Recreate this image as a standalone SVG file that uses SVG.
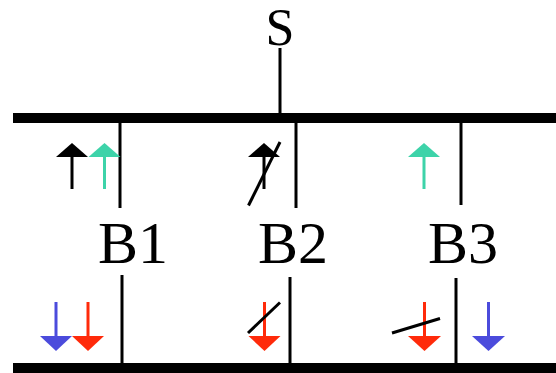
<svg xmlns="http://www.w3.org/2000/svg" width="556" height="373" viewBox="0 0 556 373">
<style>
.bus{fill:#000}
.ln{stroke:#000;stroke-width:3;fill:none}
.lbl{font-family:"Liberation Serif","Times New Roman",serif;fill:#000}
.k{stroke:#000;stroke-width:3}
.t{stroke:#3dd3a9;stroke-width:3}
.r{stroke:#ff2a0a;stroke-width:3}
.b{stroke:#4b4bdc;stroke-width:3}
.kf{fill:#000}
.tf{fill:#3dd3a9}
.rf{fill:#ff2a0a}
.bf{fill:#4b4bdc}
</style>
<g id="connectors">
<rect class="bus" x="13" y="113" width="543" height="10"/>
<rect class="bus" x="13" y="363" width="543" height="10"/>
<line class="ln" x1="280" y1="48" x2="280" y2="113"/>
<line class="ln" x1="120" y1="123" x2="120" y2="208"/>
<line class="ln" x1="122" y1="275" x2="122" y2="363"/>
<line class="ln" x1="296" y1="123" x2="296" y2="208"/>
<line class="ln" x1="290" y1="277" x2="290" y2="363"/>
<line class="ln" x1="461" y1="123" x2="461" y2="205"/>
<line class="ln" x1="456" y1="278" x2="456" y2="363"/>
</g>
<g id="S"><text class="lbl" x="280" y="45" font-size="52" text-anchor="middle">S</text></g>
<g id="B1">
<text class="lbl" x="98" y="263" font-size="60">B1</text>
<line class="k" x1="72" y1="156" x2="72" y2="189"/>
<polygon class="kf" points="56,157 72,143 88,157"/>
<line class="t" x1="104.5" y1="156" x2="104.5" y2="189"/>
<polygon class="tf" points="88.5,157 104.5,143 120.5,157"/>
<line class="b" x1="56" y1="302" x2="56" y2="337"/>
<polygon class="bf" points="40,336 56,351 72,336"/>
<line class="r" x1="88" y1="302" x2="88" y2="337"/>
<polygon class="rf" points="72,336 88,351 104,336"/>
</g>
<g id="B2">
<text class="lbl" x="258" y="263" font-size="60">B2</text>
<line class="k" x1="264" y1="156" x2="264" y2="189"/>
<polygon class="kf" points="248,157 264,143 280,157"/>
<line class="k" x1="248.5" y1="205.5" x2="280" y2="142"/>
<line class="r" x1="264.5" y1="302" x2="264.5" y2="337"/>
<polygon class="rf" points="248.5,336 264.5,351 280.5,336"/>
<line class="k" x1="248" y1="333" x2="280" y2="302.5"/>
</g>
<g id="B3">
<text class="lbl" x="428" y="263" font-size="60">B3</text>
<line class="t" x1="424" y1="156" x2="424" y2="189"/>
<polygon class="tf" points="408,157 424,143 440,157"/>
<line class="r" x1="424.5" y1="302" x2="424.5" y2="337"/>
<polygon class="rf" points="408,336 424.5,351 441,336"/>
<line class="k" x1="392" y1="333" x2="440" y2="318.5"/>
<line class="b" x1="488.5" y1="302" x2="488.5" y2="337"/>
<polygon class="bf" points="472,336 488.5,351 505,336"/>
</g>
</svg>
